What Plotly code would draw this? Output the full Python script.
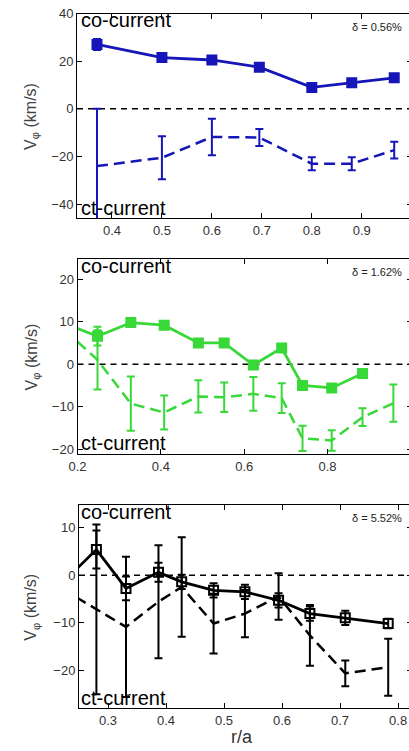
import plotly.graph_objects as go

# ---------------- data ----------------
# panel 1 (delta = 0.56%)
r1_co = [0.37, 0.50, 0.60, 0.695, 0.80, 0.88, 0.965]
v1_co = [27.0, 21.5, 20.5, 17.5, 9.0, 11.0, 13.0]
e1_co = [2.3, 1.8, 1.5, 1.5, 1.5, 1.5, 1.5]
r1_ct = [0.37, 0.50, 0.60, 0.695, 0.80, 0.88, 0.965]
v1_ct = [-24.0, -20.5, -11.8, -12.0, -23.0, -23.0, -17.3]
e1_ct = [24.0, 9.0, 7.7, 3.6, 2.7, 2.7, 3.5]

# panel 2 (delta = 1.62%)
r2_co = [0.17, 0.248, 0.328, 0.408, 0.49, 0.552, 0.622, 0.69, 0.74, 0.81, 0.884]
v2_co = [9.6, 6.6, 9.8, 9.2, 5.0, 5.0, -0.2, 3.8, -5.0, -5.6, -2.2]
e2_co = [0, 2.2, 0.8, 0.8, 0.8, 0.8, 0.8, 0.8, 0.8, 0.8, 0.8]
r2_ct = [0.17, 0.248, 0.328, 0.408, 0.49, 0.552, 0.622, 0.69, 0.74, 0.81, 0.884, 0.958]
v2_ct = [8.0, 1.0, -9.3, -11.4, -7.6, -7.8, -7.0, -8.0, -17.5, -18.0, -12.5, -9.2]
e2_ct = [0, 7.0, 6.4, 4.0, 3.8, 3.5, 4.0, 3.5, 3.0, 2.4, 2.1, 4.4]

# panel 3 (delta = 5.52%)
r3_co = [0.22, 0.28, 0.331, 0.387, 0.427, 0.482, 0.536, 0.594, 0.648, 0.709, 0.783]
v3_co = [-1.8, 5.4, -2.8, 0.6, -1.4, -3.2, -3.5, -5.3, -8.1, -9.0, -10.2]
e3_co = [0, 4.0, 2.5, 2.0, 1.5, 1.5, 1.5, 1.5, 1.5, 1.5, 1.0]
r3_ct = [0.22, 0.28, 0.331, 0.387, 0.427, 0.482, 0.536, 0.594, 0.648, 0.709, 0.783]
v3_ct = [-2.8, -7.2, -10.9, -5.6, -2.5, -10.2, -8.1, -4.5, -12.7, -20.7, -19.4]
e3_ct = [0, 17.9, 14.8, 11.9, 10.5, 6.3, 5.0, 4.9, 6.4, 2.7, 6.0]

deltas = ["δ = 0.56%", "δ = 1.62%", "δ = 5.52%"]
yticks = [[-40, -20, 0, 20, 40], [-20, -10, 0, 10, 20], [-20, -10, 0, 10]]
xticks = [[0.4, 0.5, 0.6, 0.7, 0.8, 0.9, 1.0], [0.2, 0.4, 0.6, 0.8, 1.0],
          [0.3, 0.4, 0.5, 0.6, 0.7, 0.8]]

# ---------------- layout geometry ----------------
# the original figure is cropped on the right: draw it slightly wider than
# the 409 px window and let the page clip the last few pixels
W, H = 412, 751
BLUE = "#1616b8"
GREEN = "#38d838"
BLACK = "#000000"

# pixel boxes (left, top, bottom) and axis ranges
panels = [
    dict(left=77.0, top=13.5, bottom=218.3, xr=[0.33, 1.0006], yr=[-45.9, 40]),
    dict(left=77.5, top=259, bottom=454, xr=[0.2, 1.0027], yr=[-21.18, 24.8]),
    dict(left=79, top=505, bottom=708.3, xr=[0.25, 0.824], yr=[-28.07, 14.8]),
]

fig = go.Figure()

series = [
    (r1_co, v1_co, e1_co, r1_ct, v1_ct, e1_ct, BLUE, "square", 9),
    (r2_co, v2_co, e2_co, r2_ct, v2_ct, e2_ct, GREEN, "square", 9),
    (r3_co, v3_co, e3_co, r3_ct, v3_ct, e3_ct, BLACK, "square-open", 9),
]

tickfont = dict(family="Liberation Sans, Arial, sans-serif", size=13, color="#333333")

for i, (rc, vc, ec, rt, vt, et, col, sym, ms) in enumerate(series):
    xa = "x" if i == 0 else f"x{i+1}"
    ya = "y" if i == 0 else f"y{i+1}"
    fig.add_trace(go.Scatter(
        x=rt, y=vt, xaxis=xa, yaxis=ya, mode="lines",
        line=dict(color=col, width=2.5, dash="11px,6px"),
        error_y=dict(type="data", array=et, visible=True, color=col,
                     thickness=2, width=4),
        showlegend=False))
    fig.add_trace(go.Scatter(
        x=rc, y=vc, xaxis=xa, yaxis=ya, mode="lines+markers",
        line=dict(color=col, width=2.8),
        marker=dict(symbol=sym, size=ms, color=col,
                    line=dict(color=col, width=2)),
        error_y=dict(type="data", array=ec, visible=True, color=col,
                     thickness=2, width=4),
        showlegend=False))

lay = dict(width=W, height=H, margin=dict(l=0, r=0, t=0, b=0, autoexpand=False),
           paper_bgcolor="white", plot_bgcolor="white", showlegend=False)

shapes = []
annotations = []
for i, p in enumerate(panels):
    xk = "xaxis" if i == 0 else f"xaxis{i+1}"
    yk = "yaxis" if i == 0 else f"yaxis{i+1}"
    xa = "x" if i == 0 else f"x{i+1}"
    ya = "y" if i == 0 else f"y{i+1}"
    lay[xk] = dict(domain=[p["left"] / W, 1.0], range=p["xr"], anchor=ya,
                   showgrid=False, zeroline=False, showline=True,
                   linecolor="black", linewidth=1, mirror="ticks",
                   ticks="inside", ticklen=5, tickcolor="black",
                   tickvals=xticks[i], tickfont=tickfont, automargin=False)
    lay[yk] = dict(domain=[1 - p["bottom"] / H, 1 - p["top"] / H],
                   range=p["yr"], anchor=xa,
                   showgrid=False, zeroline=False, showline=True,
                   linecolor="black", linewidth=1, mirror="ticks",
                   ticks="inside", ticklen=5, tickcolor="black",
                   tickvals=yticks[i], tickfont=tickfont, automargin=False)
    # dashed zero reference line
    shapes.append(dict(type="line", xref=f"{xa} domain", x0=0, x1=1,
                       yref=ya, y0=0, y1=0, layer="below",
                       line=dict(color="black", width=1.5, dash="6px,5px")))
    # texts
    annotations.append(dict(text="co-current", xref="paper", yref="paper",
                            x=79 / W, y=1 - (p["top"] + 6.5) / H,
                            xanchor="left", yanchor="middle", showarrow=False,
                            font=dict(family="Liberation Sans, Arial", size=20, color="black")))
    annotations.append(dict(text="ct-current", xref="paper", yref="paper",
                            x=79 / W, y=1 - (p["bottom"] - 10.5) / H,
                            xanchor="left", yanchor="middle", showarrow=False,
                            font=dict(family="Liberation Sans, Arial", size=20, color="black")))
    annotations.append(dict(text=deltas[i], xref="paper", yref="paper",
                            x=404 / W, y=1 - (p["top"] + 13) / H,
                            xanchor="right", yanchor="middle", showarrow=False,
                            font=dict(family="Liberation Sans, Arial", size=11, color="#222222")))
    annotations.append(dict(text="V<sub>φ</sub> (km/s)", xref="paper", yref="paper",
                            x=32 / W, y=1 - ((p["top"] + p["bottom"]) / 2) / H,
                            xanchor="center", yanchor="middle", showarrow=False,
                            textangle=-90,
                            font=dict(family="Liberation Sans, Arial", size=16, color="#444444")))

annotations.append(dict(text="r/a", xref="paper", yref="paper",
                        x=242 / W, y=1 - 737 / H, xanchor="center", yanchor="middle",
                        showarrow=False,
                        font=dict(family="Liberation Sans, Arial", size=18, color="#333333")))

lay["shapes"] = shapes
lay["annotations"] = annotations
fig.update_layout(**lay)
fig.write_html("out.html", config={"displayModeBar": False})

# remove the default page margin so the figure sits at the window's corner
with open("out.html", "r", encoding="utf-8") as fh:
    html = fh.read()
html = html.replace("<head>", "<head><style>html,body{margin:0;padding:0;overflow:hidden;}</style>", 1)
with open("out.html", "w", encoding="utf-8") as fh:
    fh.write(html)
